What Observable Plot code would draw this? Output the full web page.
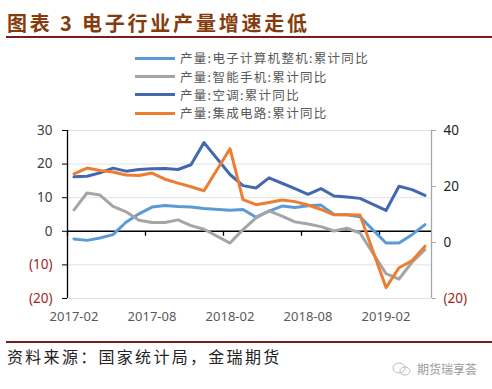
<!DOCTYPE html>
<html>
<head>
<meta charset="utf-8">
<script src="https://cdn.jsdelivr.net/npm/d3@7"></script>
<script src="https://cdn.jsdelivr.net/npm/@observablehq/plot@0.6"></script>
<style>
  body { margin: 0; background: #fff; }
  #wrap { position: relative; width: 492px; height: 389px; overflow: hidden; background: #fff;
          font-family: "Noto Sans CJK SC", "Noto Sans", sans-serif; }
  #title { position: absolute; left: 7px; top: 9px; font-size: 20px; font-weight: bold; color: #843C0C;
           letter-spacing: 2.8px; line-height: 28px; white-space: nowrap; }
  .rule { position: absolute; left: 6px; right: 0; height: 2px; background: #7B1C1C; }
  #legend { position: absolute; left: 135px; top: 49.4px; }
  .item { display: flex; align-items: center; height: 18.2px; font-size: 12.5px; letter-spacing: 1.3px; color: #595959; white-space: nowrap; }
  .lbl { line-height: 18.2px; }
  .swatch { width: 40px; height: 3px; margin-right: 5px; }
  #chart { position: absolute; left: 0; top: 120px; }
  #caption { position: absolute; left: 7px; top: 344px; font-size: 16px; letter-spacing: 2.3px; color: #222;
             line-height: 24px; white-space: nowrap; }
  #mark { position: absolute; left: 392px; top: 360px; font-size: 12px; color: #9a9a9a; white-space: nowrap;
          display: flex; align-items: center; }
</style>
</head>
<body>
<div id="wrap">
  <div id="title">图表 3 电子行业产量增速走低</div>
  <div class="rule" style="top:36px"></div>
  <div id="legend"></div>
  <div id="chart"></div>
  <div class="rule" style="top:341px"></div>
  <div id="caption">资料来源：国家统计局，金瑞期货</div>
  <div id="mark"><svg width="20" height="14" viewBox="0 0 20 14"><ellipse cx="7" cy="6" rx="6" ry="5" fill="none" stroke="#bbb"/><ellipse cx="13" cy="9" rx="5" ry="4" fill="none" stroke="#bbb"/></svg><span style="margin-left:5px">期货瑞享荟</span></div>
</div>
<script>
// ---- data ----
const months = ["2017-02","2017-03","2017-04","2017-05","2017-06","2017-07","2017-08","2017-09","2017-10","2017-11","2017-12",
                "2018-02","2018-03","2018-04","2018-05","2018-06","2018-07","2018-08","2018-09","2018-10","2018-11","2018-12",
                "2019-02","2019-03","2019-04","2019-05"];
const computer   = [-2.3,-2.7,-2.0,-1.0,2.7,5.2,7.2,7.7,7.4,7.2,6.8,
                     6.3,6.5,4.2,6.0,7.5,7.1,7.6,7.8,5.0,4.9,4.3,
                     -3.5,-3.5,-1.0,2.0];
const smartphone = [6.4,11.4,10.8,7.4,5.8,3.3,2.6,2.6,3.4,1.7,0.6,
                     -3.5,0.5,4.0,6.1,4.5,2.8,2.2,1.4,0.1,0.9,-0.5,
                     -12.6,-14.2,-9.2,-5.5];
const aircon     = [16.2,16.4,17.4,18.8,17.9,18.4,18.6,18.7,18.4,19.8,26.4,
                     16.9,13.6,12.9,15.9,14.3,12.7,11.0,12.7,10.5,10.2,9.8,
                     6.2,13.4,12.4,10.7];
const ic         = [24.5,26.6,25.7,25.2,24.1,23.9,24.8,22.6,21.2,19.9,18.5,
                     33.5,15.3,13.5,14.3,15.2,14.6,13.4,11.8,9.9,9.9,9.8,
                     -16.1,-9.0,-6.5,-1.3];
const seriesNames  = ["产量:电子计算机整机:累计同比","产量:智能手机:累计同比","产量:空调:累计同比","产量:集成电路:累计同比"];
const seriesColors = ["#5B9BD5","#A5A5A5","#4468B0","#ED7D31"];
const seriesOnRight = [false,false,false,true];
const leftTicks  = [-20,-10,0,10,20,30];
const rightTicks = [-20,0,20,40];
const xTickLabels = ["2017-02","2017-08","2018-02","2018-08","2019-02"];

// ---- helpers ----
const idx = m => { const [y, mo] = m.split("-").map(Number); return (y - 2017) * 12 + (mo - 2); };
const leftDomain = [d3.min(leftTicks), d3.max(leftTicks)];
const rightDomain = [d3.min(rightTicks), d3.max(rightTicks)];
const toLeft = r => leftDomain[0] + (r - rightDomain[0]) * (leftDomain[1] - leftDomain[0]) / (rightDomain[1] - rightDomain[0]);
const fmt = v => v < 0 ? `(${Math.abs(v)})` : `${v}`;
const red = "#A31F1F";

const allSeries = [computer, smartphone, aircon, ic];
const rows = [];
allSeries.forEach((arr, s) => arr.forEach((v, i) =>
  rows.push({series: seriesNames[s], s, x: idx(months[i]), y: seriesOnRight[s] ? toLeft(v) : v})));

const xMin = idx(months[0]) - 0.5, xMax = idx(months[months.length - 1]) + 0.5;
const xTicks = xTickLabels.map(idx);
const xTickMarks = xTicks.map(t => t - 0.5);

// legend
const legend = document.getElementById("legend");
seriesNames.forEach((n, i) => {
  const it = document.createElement("div"); it.className = "item";
  it.innerHTML = `<span class="swatch" style="background:${seriesColors[i]}"></span><span class="lbl">${n}</span>`;
  legend.appendChild(it);
});

const height = 215, marginTop = 10, marginBottom = 37;
const pxPerUnit = (height - marginTop - marginBottom) / (leftDomain[1] - leftDomain[0]);

const chart = Plot.plot({
  width: 492, height, marginTop, marginBottom, marginLeft: 67, marginRight: 61,
  style: {fontFamily: "'Noto Sans', 'Open Sans', sans-serif", fontSize: "13px", background: "transparent", overflow: "visible"},
  x: {domain: [xMin, xMax], label: null},
  y: {domain: leftDomain, label: null},
  marks: [
    Plot.ruleY(leftTicks.filter(d => d !== 0), {stroke: "#e2e2e2", strokeWidth: 1}),
    Plot.ruleX([xMax], {y1: leftDomain[0], y2: leftDomain[1], stroke: "#a6a6a6", strokeWidth: 1.3}),
    Plot.axisY(rightTicks.map(toLeft), {anchor: "right", tickSize: 4, tickFormat: () => "", stroke: "#a6a6a6"}),
    Plot.axisY(leftTicks, {anchor: "left", tickSize: 5, tickFormat: () => "", stroke: "#000"}),
    Plot.ruleX([xMin], {y1: leftDomain[0], y2: leftDomain[1], stroke: "#000", strokeWidth: 1.3}),
    Plot.ruleX(xTickMarks, {y1: 0, y2: -5 / pxPerUnit, stroke: "#000", strokeWidth: 1.3}),
    Plot.ruleY([0], {stroke: "#000", strokeWidth: 1.6}),
    ...seriesNames.map((n, s) => Plot.line(rows.filter(d => d.s === s),
        {x: "x", y: "y", stroke: seriesColors[s], strokeWidth: 3, strokeLinejoin: "round", strokeLinecap: "round"})),
    Plot.text(leftTicks, {y: d => d, text: fmt, frameAnchor: "left", textAnchor: "end", dx: -15,
        fill: d => d < 0 ? red : "#404040", fontSize: 13.5}),
    Plot.text(rightTicks, {y: d => toLeft(d), text: fmt, frameAnchor: "right", textAnchor: "start", dx: 12,
        fill: d => d < 0 ? red : "#222", fontSize: 13.5}),
    Plot.axisX(xTicks, {tickSize: 0, tickPadding: 13, tickFormat: (d, i) => xTickLabels[i], fill: "#595959", fontSize: 13, label: null})
  ]
});
document.getElementById("chart").appendChild(chart);
</script>
</body>
</html>
